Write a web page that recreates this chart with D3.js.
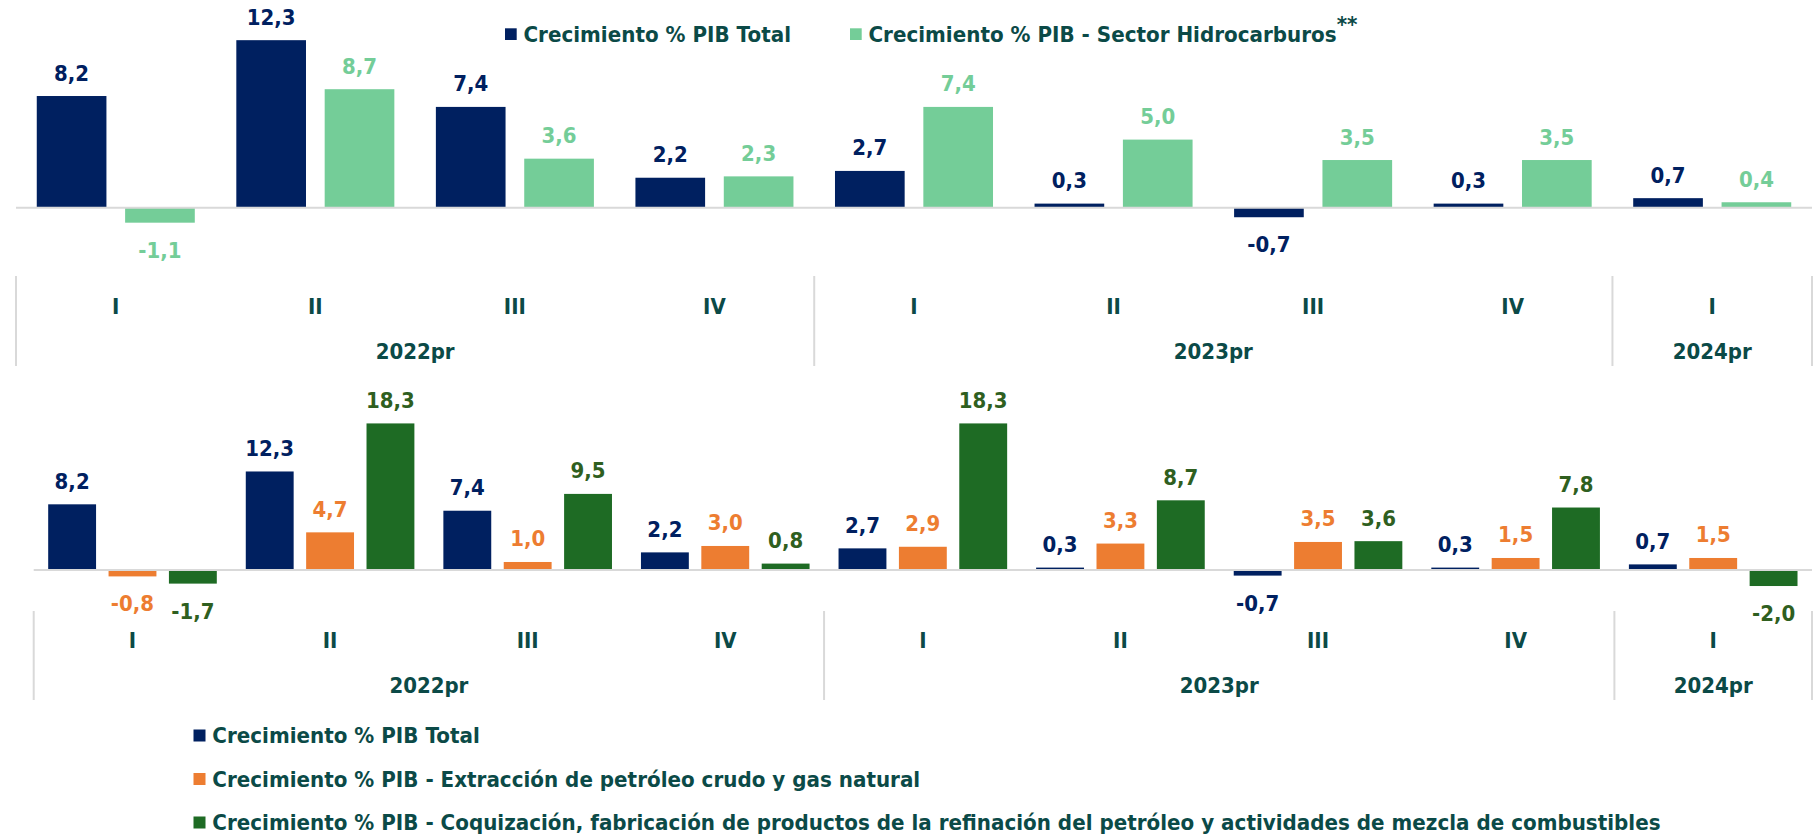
<!DOCTYPE html>
<html><head><meta charset="utf-8">
<script src="https://cdn.jsdelivr.net/npm/d3@7"></script>
<style>
html,body{margin:0;padding:0;background:#fff;}
svg text{font-family:"DejaVu Sans",Verdana,sans-serif;font-weight:bold;font-size:22px;}
</style></head>
<body><svg id="c" width="1819" height="835"></svg>
<script>
// ---- data ----
const quarters = ["I","II","III","IV","I","II","III","IV","I"];
const years = ["2022pr","2023pr","2024pr"];
const yearSpans = [[0,4],[4,8],[8,9]];
const pibTotal = [8.2,12.3,7.4,2.2,2.7,0.3,-0.7,0.3,0.7];
const hidrocarburos = [-1.1,8.7,3.6,2.3,7.4,5.0,3.5,3.5,0.4];
const extraccion = [-0.8,4.7,1.0,3.0,2.9,3.3,3.5,1.5,1.5];
const refinacion = [-1.7,18.3,9.5,0.8,18.3,8.7,3.6,7.8,-2.0];
const topLegend = ["Crecimiento % PIB Total","Crecimiento % PIB - Sector Hidrocarburos"];
const bottomLegend = ["Crecimiento % PIB Total",
  "Crecimiento % PIB - Extracción de petróleo crudo y gas natural",
  "Crecimiento % PIB - Coquización, fabricación de productos de la refinación del petróleo y actividades de mezcla de combustibles"];

// ---- styles ----
const C = {navy:"#002060", light:"#74CD98", orange:"#ED7D31", dgreen:"#1E6B24",
           dgreenText:"#2F5F1F", text:"#0B4A47", grid:"#D9D9D9"};
const SX = 0.9;
const SXL = 0.906;
const svg = d3.select("#c");
const fmt = v => v.toFixed(1).replace(".", ",");

function txt(g, x, y, s, fill, anchor, sx){
  return g.append("text").attr("transform",`translate(${x},${y}) scale(${sx||SX},1)`)
    .attr("text-anchor",anchor||"middle").attr("fill",fill).text(s);
}

function drawChart(opts){
  const g = svg.append("g");
  const x = d3.scaleBand().domain(d3.range(quarters.length)).range(opts.xr).padding(0);
  const xi = d3.scaleBand().domain(opts.series.map((s,i)=>i)).range([0,x.bandwidth()])
    .paddingInner(opts.pin).paddingOuter(opts.pout);
  const y = d3.scaleLinear().domain(opts.yd).range(opts.yr);
  opts.series.forEach((s,si)=>{
    const gs = g.append("g");
    gs.selectAll("rect").data(s.values).join("rect")
      .attr("x",(d,i)=>x(i)+xi(si)).attr("width",xi.bandwidth())
      .attr("y",d=>Math.min(y(d),y(0))).attr("height",d=>Math.abs(y(d)-y(0)))
      .attr("fill",s.color);
  });
  // baseline
  g.append("line").attr("x1",opts.xr[0]).attr("x2",opts.xr[1]).attr("y1",y(0)).attr("y2",y(0))
    .attr("stroke",C.grid).attr("stroke-width",2);
  // labels
  opts.series.forEach((s,si)=>{
    s.values.forEach((d,i)=>{
      const cx = x(i)+xi(si)+xi.bandwidth()/2;
      const yy = d>=0 ? y(d)-15.5 : y(d)+35;
      txt(g,cx,yy,fmt(d),s.textColor);
    });
  });
  // category axis
  const seps = [0,4,8].map(i=>x(i)).concat([opts.xr[1]]);
  seps.forEach(sx=>g.append("line").attr("x1",sx).attr("x2",sx)
    .attr("y1",opts.sepY[0]).attr("y2",opts.sepY[1]).attr("stroke",C.grid).attr("stroke-width",2));
  quarters.forEach((q,i)=>txt(g,x(i)+x.bandwidth()/2,opts.qY,q,C.text));
  years.forEach((yl,k)=>{
    const [a,b]=yearSpans[k];
    txt(g,(x(a)+x(b-1)+x.bandwidth())/2,opts.yY,yl,C.text);
  });
}

drawChart({
  xr:[16,1812], pin:0.2115, pout:0.235,
  yd:[-4,14], yr:[207.7+4*13.62, 207.7-14*13.62],
  series:[{values:pibTotal,color:C.navy,textColor:C.navy},
          {values:hidrocarburos,color:C.light,textColor:C.light}],
  sepY:[276,366], qY:314, yY:359
});
drawChart({
  xr:[33.7,1812], pin:0.207, pout:0.24,
  yd:[-4,20], yr:[570+4*8.01, 570-20*8.01],
  series:[{values:pibTotal,color:C.navy,textColor:C.navy},
          {values:extraccion,color:C.orange,textColor:C.orange},
          {values:refinacion,color:C.dgreen,textColor:C.dgreenText}],
  sepY:[611,700], qY:647.5, yY:693
});

// top legend
const tl = svg.append("g");
const tlX = [505,850], tlColors=[C.navy,C.light];
topLegend.forEach((l,i)=>{
  tl.append("rect").attr("x",tlX[i]).attr("y",28.3).attr("width",11.7).attr("height",11.7).attr("fill",tlColors[i]);
  const t = txt(tl,tlX[i]+18.5,42.3,l,C.text,"start",SXL);
  if(i===1){ t.append("tspan").attr("dy",-10).text("**"); }
});
// bottom legend
const bl = svg.append("g");
const blY=[735.5,779,822.5], blColors=[C.navy,C.orange,C.dgreen];
bottomLegend.forEach((l,i)=>{
  bl.append("rect").attr("x",193.5).attr("y",blY[i]-6).attr("width",12).attr("height",12).attr("fill",blColors[i]);
  txt(bl,212.3,blY[i]+7.5,l,C.text,"start",SXL);
});
</script></body></html>
